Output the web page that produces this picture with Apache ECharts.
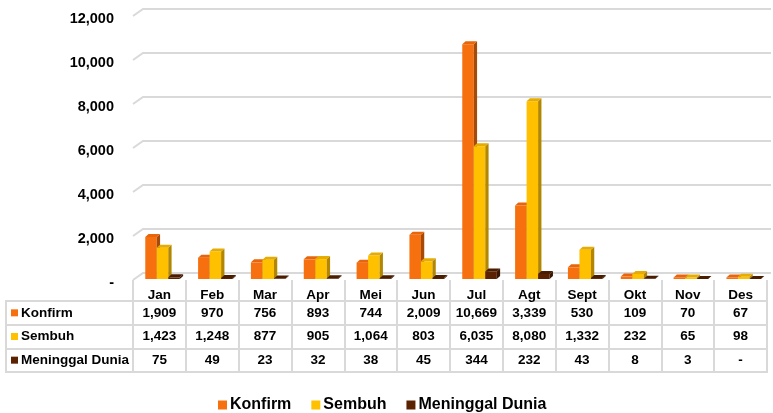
<!DOCTYPE html>
<html>
<head>
<meta charset="utf-8">
<script src="https://cdn.jsdelivr.net/npm/echarts@6/dist/echarts.min.js"></script>
<style>
  html, body { margin: 0; padding: 0; background: #ffffff; }
  #chart { width: 773px; height: 413px; }
</style>
</head>
<body>
<div id="chart"></div>
<script>
// Monthly case counts
const months = ['Jan', 'Feb', 'Mar', 'Apr', 'Mei', 'Jun', 'Jul', 'Agt', 'Sept', 'Okt', 'Nov', 'Des'];
const seriesNames = ['Konfirm', 'Sembuh', 'Meninggal Dunia'];
const konfirm = [1909, 970, 756, 893, 744, 2009, 10669, 3339, 530, 109, 70, 67];
const sembuh = [1423, 1248, 877, 905, 1064, 803, 6035, 8080, 1332, 232, 65, 98];
const meninggal = [75, 49, 23, 32, 38, 45, 344, 232, 43, 8, 3, 0];
const yTicks = [0, 2000, 4000, 6000, 8000, 10000, 12000];

const FONT = '"Liberation Sans", Arial, sans-serif';
const GRID_LINE = '#d9d9d9';
const DEPTH_X = 10, DEPTH_Y = 7;     // back wall offset
const BAR_DX = 3.3, BAR_DY = 3;      // bar thickness

// face colours: front, side, top
const palette = [
  { front: '#F7700F', side: '#A84A07', top: '#E8650A' },
  { front: '#FFC000', side: '#B38600', top: '#E6AC00' },
  { front: '#5A2200', side: '#3A1500', top: '#4A1C00' }
];
const seriesValues = [konfirm, sembuh, meninggal];

const fmt = v => (v === 0 ? '-' : v.toLocaleString('en-US'));

// 3D-looking column: front rect + side + top faces
function columnRenderer(s) {
  const c = palette[s];
  return function (params, api) {
    const i = api.value(0), v = api.value(1);
    const base = api.coord([i, 0]);
    const top = api.coord([i, v]);
    const bw = api.size([1, 0])[0];
    const w = bw * 0.218;
    const x0 = base[0] - bw / 2 + bw * 0.232 + s * w;
    const yb = base[1] - 1;
    const yt = Math.min(top[1] - 1, yb);
    return {
      type: 'group',
      children: [
        { type: 'rect', shape: { x: x0, y: yt, width: w, height: yb - yt }, style: { fill: c.front } },
        { type: 'polygon', shape: { points: [[x0 + w, yt], [x0 + w + BAR_DX, yt - BAR_DY], [x0 + w + BAR_DX, yb - BAR_DY], [x0 + w, yb]] }, style: { fill: c.side } },
        { type: 'polygon', shape: { points: [[x0, yt], [x0 + BAR_DX, yt - BAR_DY], [x0 + w + BAR_DX, yt - BAR_DY], [x0 + w, yt]] }, style: { fill: c.top } }
      ]
    };
  };
}

// back wall gridlines with a slanted stub at the left
function wallRenderer(params, api) {
  const y = api.coord([0, api.value(1)])[1];
  const cs = params.coordSys;
  return {
    type: 'polyline',
    shape: { points: [[cs.x, y], [cs.x + DEPTH_X, y - DEPTH_Y], [cs.x + cs.width + 4, y - DEPTH_Y]] },
    style: { stroke: GRID_LINE, lineWidth: 2, fill: null }
  };
}

// values in the data table cells
function cellRenderer(params, api) {
  const p = api.coord([api.value(0), api.value(1)]);
  return {
    type: 'text',
    style: {
      text: fmt(api.value(2)), x: p[0], y: p[1],
      align: 'center', verticalAlign: 'middle',
      font: 'bold 13.5px ' + FONT, fill: '#000'
    }
  };
}

const tableData = [];
seriesValues.forEach((arr, r) => arr.forEach((v, i) => tableData.push([i, r, v])));

const rowRich = { t: { fontFamily: FONT, fontWeight: 'bold', fontSize: 13.5, color: '#000', padding: [0, 0, 0, 3] } };
palette.forEach((c, k) => { rowRich['s' + k] = { width: 7, height: 7, backgroundColor: c.front }; });

const chart = echarts.init(document.getElementById('chart'), null, { renderer: 'canvas' });
chart.setOption({
  animation: false,
  backgroundColor: '#ffffff',
  textStyle: { fontFamily: FONT },
  legend: {
    data: seriesNames,
    left: 213, top: 392,
    icon: 'rect', itemWidth: 9, itemHeight: 9, itemGap: 20,
    textStyle: { fontFamily: FONT, fontWeight: 'bold', fontSize: 16, color: '#000', padding: [0, 0, 0, -2] }
  },
  grid: [
    { left: 133, right: 6, top: 16, height: 264 },
    { left: 6, width: 127, top: 301, height: 71, show: true, borderColor: GRID_LINE, borderWidth: 2 },
    { left: 133, right: 6, top: 301, height: 71, show: true, borderColor: GRID_LINE, borderWidth: 2 }
  ],
  xAxis: [
    {
      gridIndex: 0, type: 'category', data: months,
      axisLine: { show: false },
      axisTick: { show: true, length: 21, lineStyle: { color: GRID_LINE, width: 2 } },
      axisLabel: { margin: 8, fontFamily: FONT, fontWeight: 'bold', fontSize: 13.5, color: '#000' },
      splitLine: { show: false }
    },
    { gridIndex: 1, type: 'value', show: false },
    {
      gridIndex: 2, type: 'category', data: months,
      axisLine: { show: false }, axisTick: { show: false }, axisLabel: { show: false },
      splitLine: { show: true, lineStyle: { color: GRID_LINE, width: 2 } }
    }
  ],
  yAxis: [
    {
      gridIndex: 0, type: 'value', min: 0, max: 12000, interval: 2000,
      axisLine: { show: false }, axisTick: { show: false },
      splitLine: { show: false },
      axisLabel: {
        margin: 19,
        formatter: v => '{v|' + fmt(v) + '}',
        rich: { v: { fontFamily: FONT, fontWeight: 'bold', fontSize: 14.5, color: '#000', padding: [6, 0, 0, 0] } }
      }
    },
    {
      gridIndex: 1, type: 'category', data: seriesNames, inverse: true,
      axisLine: { show: false }, axisTick: { show: false },
      splitLine: { show: true, lineStyle: { color: GRID_LINE, width: 2 } },
      axisLabel: {
        inside: true, margin: 5,
        formatter: (v, i) => '{s' + i + '|}{t|' + v + '}',
        rich: rowRich
      }
    },
    {
      gridIndex: 2, type: 'category', data: seriesNames, inverse: true,
      axisLine: { show: false }, axisTick: { show: false }, axisLabel: { show: false },
      splitLine: { show: true, lineStyle: { color: GRID_LINE, width: 2 } }
    }
  ],
  series: [
    {
      type: 'custom', name: 'wall', xAxisIndex: 0, yAxisIndex: 0, silent: true, z: 1,
      renderItem: wallRenderer,
      data: yTicks.map(v => [0, v])
    },
    ...seriesNames.map((name, s) => ({
      type: 'custom', name: name, xAxisIndex: 0, yAxisIndex: 0, z: 2,
      itemStyle: { color: palette[s].front },
      renderItem: columnRenderer(s),
      encode: { x: 0, y: 1 },
      data: seriesValues[s].map((v, i) => [i, v])
    })),
    {
      type: 'custom', name: 'table', xAxisIndex: 2, yAxisIndex: 2, silent: true, z: 3,
      renderItem: cellRenderer,
      encode: { x: 0, y: 1 },
      data: tableData
    }
  ]
});
</script>
</body>
</html>
